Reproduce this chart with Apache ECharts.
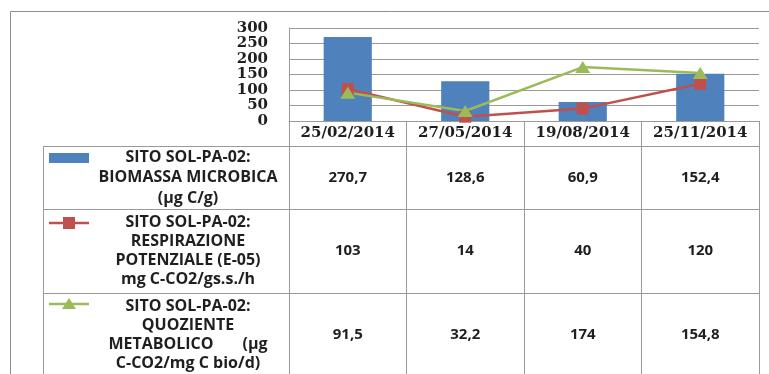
<!DOCTYPE html>
<html>
<head>
<meta charset="utf-8">
<script src="https://cdn.jsdelivr.net/npm/echarts@6/dist/echarts.min.js"></script>
<style>
  html, body { margin: 0; padding: 0; background: #fff; }
  #chart { width: 769px; height: 374px; }
</style>
</head>
<body>
<div id="chart"></div>
<script>
// Sampling dates and measured values for site SOL-PA-02
const dates = ['25/02/2014', '27/05/2014', '19/08/2014', '25/11/2014'];
const biomassa = [270.7, 128.6, 60.9, 152.4];
const respirazione = [103, 14, 40, 120];
const quoziente = [91.5, 32.2, 174, 154.8];

// Value axis range
const yMin = 0;
const yMax = 300;
const yStep = 50;

// Row captions of the data table
const rowCaptions = [
  ['SITO SOL-PA-02:', 'BIOMASSA MICROBICA', '(µg C/g)'],
  ['SITO SOL-PA-02:', 'RESPIRAZIONE', 'POTENZIALE (E-05)', 'mg C-CO2/gs.s./h'],
  ['SITO SOL-PA-02:', 'QUOZIENTE', 'METABOLICO       (µg', 'C-CO2/mg C bio/d)']
];
const rowSeries = [biomassa, respirazione, quoziente];

const BLUE = '#4F81BD';
const RED = '#C0504D';
const GREEN = '#9BBB59';
const LINE_GRAY = '#9a9a9a';
const TEXT = '#1f1f1f';

// Table geometry (pixels)
const tableLeft = 43;
const headerBottom = 146;
const rowBottoms = [209, 293, 377];
const captionCenterX = 188;

const fmt = v => String(v).replace('.', ',');

const chart = echarts.init(document.getElementById('chart'), null, { renderer: 'canvas' });

const option = {
  animation: false,
  backgroundColor: '#fff',
  grid: { left: 289, top: 28, right: 10, bottom: 253, containLabel: false },
  xAxis: {
    type: 'category',
    data: dates,
    boundaryGap: true,
    axisLine: { show: true, lineStyle: { color: LINE_GRAY, width: 1 } },
    axisTick: { show: true, interval: 0, length: 260, lineStyle: { color: LINE_GRAY, width: 1 } },
    axisLabel: {
      interval: 0,
      margin: 5,
      color: TEXT,
      fontFamily: 'DejaVu Serif',
      fontSize: 15,
      fontWeight: 'bold'
    },
    splitLine: { show: false }
  },
  yAxis: {
    type: 'value',
    min: yMin,
    max: yMax,
    interval: yStep,
    axisLine: { show: true, lineStyle: { color: LINE_GRAY, width: 1 } },
    axisTick: { show: false },
    axisLabel: {
      margin: 21,
      color: TEXT,
      fontFamily: 'DejaVu Serif',
      fontSize: 15,
      fontWeight: 'bold'
    },
    splitLine: { show: true, lineStyle: { color: LINE_GRAY, width: 1 } }
  },
  series: [
    {
      name: 'BIOMASSA MICROBICA',
      type: 'bar',
      data: biomassa,
      barWidth: '41%',
      itemStyle: { color: BLUE }
    },
    {
      name: 'RESPIRAZIONE POTENZIALE',
      type: 'line',
      data: respirazione,
      symbol: 'rect',
      symbolSize: 12,
      lineStyle: { color: RED, width: 2.5 },
      itemStyle: { color: RED }
    },
    {
      name: 'QUOZIENTE METABOLICO',
      type: 'line',
      data: quoziente,
      symbol: 'triangle',
      symbolSize: [15, 12],
      lineStyle: { color: GREEN, width: 2.5 },
      itemStyle: { color: GREEN }
    }
  ]
};

chart.setOption(option);

// Data table under the plot: borders, captions with legend keys, and values
function buildTable() {
  const step = chart.convertToPixel({ xAxisIndex: 0 }, 1) - chart.convertToPixel({ xAxisIndex: 0 }, 0);
  const gridRight = chart.convertToPixel({ xAxisIndex: 0 }, dates.length - 1) + step / 2;
  const els = [];

  // outer chart frame
  els.push({
    type: 'rect', silent: true,
    shape: { x: 10.5, y: 11.5, width: 800, height: 400 },
    style: { fill: 'none', stroke: '#8c8c8c', lineWidth: 1 }
  });

  // horizontal table rules
  [headerBottom].concat(rowBottoms).forEach(y => {
    els.push({
      type: 'line', silent: true,
      shape: { x1: tableLeft, y1: y + 0.5, x2: gridRight, y2: y + 0.5 },
      style: { stroke: LINE_GRAY, lineWidth: 1 }
    });
  });
  // left edge of caption column
  els.push({
    type: 'line', silent: true,
    shape: { x1: tableLeft + 0.5, y1: headerBottom, x2: tableLeft + 0.5, y2: 380 },
    style: { stroke: LINE_GRAY, lineWidth: 1 }
  });

  const rowTops = [headerBottom].concat(rowBottoms.slice(0, -1));
  rowCaptions.forEach((lines, r) => {
    const top = rowTops[r];
    const mid = (top + rowBottoms[r]) / 2;
    const lh = r === 0 ? 20.5 : 19;
    els.push({
      type: 'text', silent: true,
      style: {
        text: lines.join('\n'),
        x: captionCenterX, y: mid,
        align: 'center', verticalAlign: 'middle',
        textAlign: 'center', textVerticalAlign: 'middle',
        lineHeight: lh,
        fill: TEXT,
        font: 'bold 16px "Open Sans"'
      }
    });
    // values for each date
    rowSeries[r].forEach((v, i) => {
      const cx = chart.convertToPixel({ xAxisIndex: 0 }, i);
      els.push({
        type: 'text', silent: true,
        style: {
          text: fmt(v),
          x: cx, y: mid,
          align: 'center', verticalAlign: 'middle',
          textAlign: 'center', textVerticalAlign: 'middle',
          fill: TEXT,
          font: 'bold 15px "Open Sans"'
        }
      });
    });
  });

  // legend keys
  const keyX = 49, keyW = 40;
  const keyY = [158, 223, 304];
  els.push({
    type: 'rect', silent: true,
    shape: { x: keyX, y: keyY[0] - 5, width: keyW, height: 10 },
    style: { fill: BLUE }
  });
  els.push({
    type: 'line', silent: true,
    shape: { x1: keyX, y1: keyY[1], x2: keyX + keyW, y2: keyY[1] },
    style: { stroke: RED, lineWidth: 2.5 }
  });
  els.push({
    type: 'rect', silent: true,
    shape: { x: keyX + keyW / 2 - 6, y: keyY[1] - 6, width: 12, height: 12 },
    style: { fill: RED }
  });
  els.push({
    type: 'line', silent: true,
    shape: { x1: keyX, y1: keyY[2], x2: keyX + keyW, y2: keyY[2] },
    style: { stroke: GREEN, lineWidth: 2.5 }
  });
  els.push({
    type: 'polygon', silent: true,
    shape: { points: [[keyX + keyW / 2 - 7, keyY[2] + 5], [keyX + keyW / 2 + 7, keyY[2] + 5], [keyX + keyW / 2, keyY[2] - 6]] },
    style: { fill: GREEN }
  });

  chart.setOption({ graphic: { elements: els } });
}

buildTable();
</script>
</body>
</html>
